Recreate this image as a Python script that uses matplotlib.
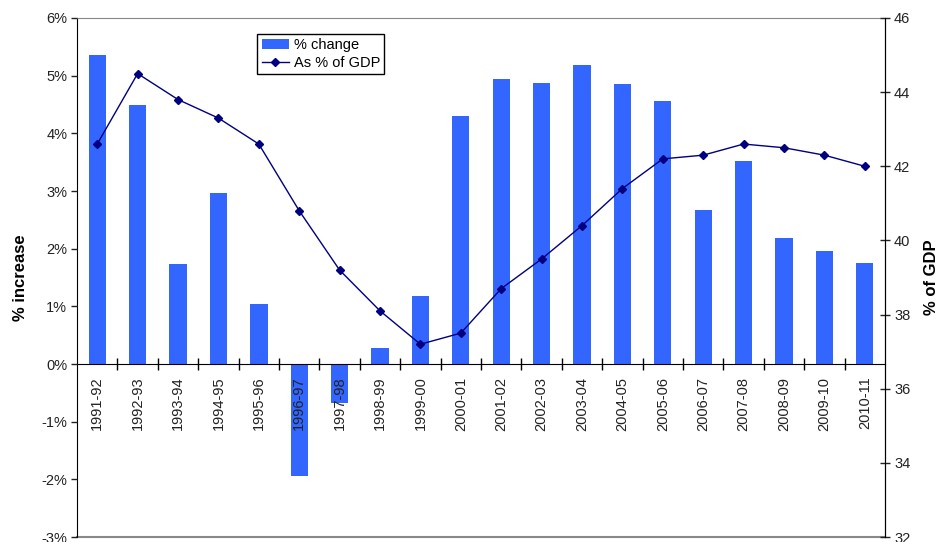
import matplotlib
matplotlib.use("Agg")
import matplotlib.pyplot as plt
import numpy as np
from matplotlib.ticker import FuncFormatter, FixedLocator

plt.rcParams["font.family"] = ["Liberation Sans", "DejaVu Sans"]
plt.rcParams["font.size"] = 10.5

# %% data
years = ["1991-92", "1992-93", "1993-94", "1994-95", "1995-96", "1996-97",
         "1997-98", "1998-99", "1999-00", "2000-01", "2001-02", "2002-03",
         "2003-04", "2004-05", "2005-06", "2006-07", "2007-08", "2008-09",
         "2009-10", "2010-11"]
pct_change = [5.36, 4.49, 1.74, 2.96, 1.04, -1.94, -0.68, 0.28, 1.18, 4.30,
              4.95, 4.88, 5.18, 4.86, 4.56, 2.67, 3.52, 2.18, 1.96, 1.75]
pct_gdp = [42.6, 44.5, 43.8, 43.3, 42.6, 40.8, 39.2, 38.1, 37.2, 37.5,
           38.7, 39.5, 40.4, 41.4, 42.2, 42.3, 42.6, 42.5, 42.3, 42.0]

# %% plot
fig = plt.figure(figsize=(9.36, 5.42), dpi=100)
ax = fig.add_axes([0.0823, 0.0092, 0.8632, 0.9576])
x = np.arange(len(years))

bars = ax.bar(x, pct_change, width=0.43, color="#3366FF", zorder=2,
              label="% change")
ax.set_axisbelow(False)  # tick labels sit on top of the negative bars
ax.set_xlim(-0.5, len(years) - 0.5)
ax.set_ylim(-3, 6)
ax.set_yticks(range(-3, 7))
ax.yaxis.set_major_formatter(FuncFormatter(lambda v, p: "%d%%" % v))
ax.tick_params(axis="y", direction="out", length=4, width=1, pad=3,
               colors="#222222")
ax.set_ylabel("% increase", fontweight="bold", fontsize=12, labelpad=10)

# x axis sits on the zero line
ax.spines["bottom"].set_position(("data", 0))
ax.spines["bottom"].set_color("black")
ax.spines["top"].set_color("#888888")
ax.spines["left"].set_color("black")
ax.set_xticks(x)
ax.set_xticklabels(years, rotation=90, va="top")
ax.xaxis.set_minor_locator(FixedLocator(np.arange(0.5, len(years) - 0.5, 1)))
ax.tick_params(axis="x", which="major", length=0, pad=9, colors="#222222")
ax.tick_params(axis="x", which="minor", direction="inout", length=8, width=1)
ax.axhline(-3, color="#888888", lw=1.5, clip_on=False, zorder=1)

ax2 = ax.twinx()
line, = ax2.plot(x, pct_gdp, color="#000080", lw=1, marker="D",
                 markersize=4.5, label="As % of GDP")
ax2.set_ylim(32, 46)
ax2.set_yticks(range(32, 47, 2))
ax2.tick_params(axis="y", direction="inout", length=7, width=1, pad=3,
                colors="#222222")
ax2.spines["right"].set_color("black")
ax2.spines["top"].set_visible(False)
ax2.spines["bottom"].set_visible(False)
ax2.spines["left"].set_visible(False)
ax2.set_ylabel("% of GDP", fontweight="bold", fontsize=12, labelpad=10)

leg = ax2.legend([bars, line], ["% change", "As % of GDP"],
                 loc="upper left", bbox_to_anchor=(0.223, 0.969),
                 borderaxespad=0, fancybox=False, framealpha=1,
                 edgecolor="black", fontsize=10.5, handlelength=1.9,
                 handletextpad=0.3, labelspacing=0.25, borderpad=0.3)
leg.get_frame().set_linewidth(1)

fig.savefig("out.png", dpi=100)
